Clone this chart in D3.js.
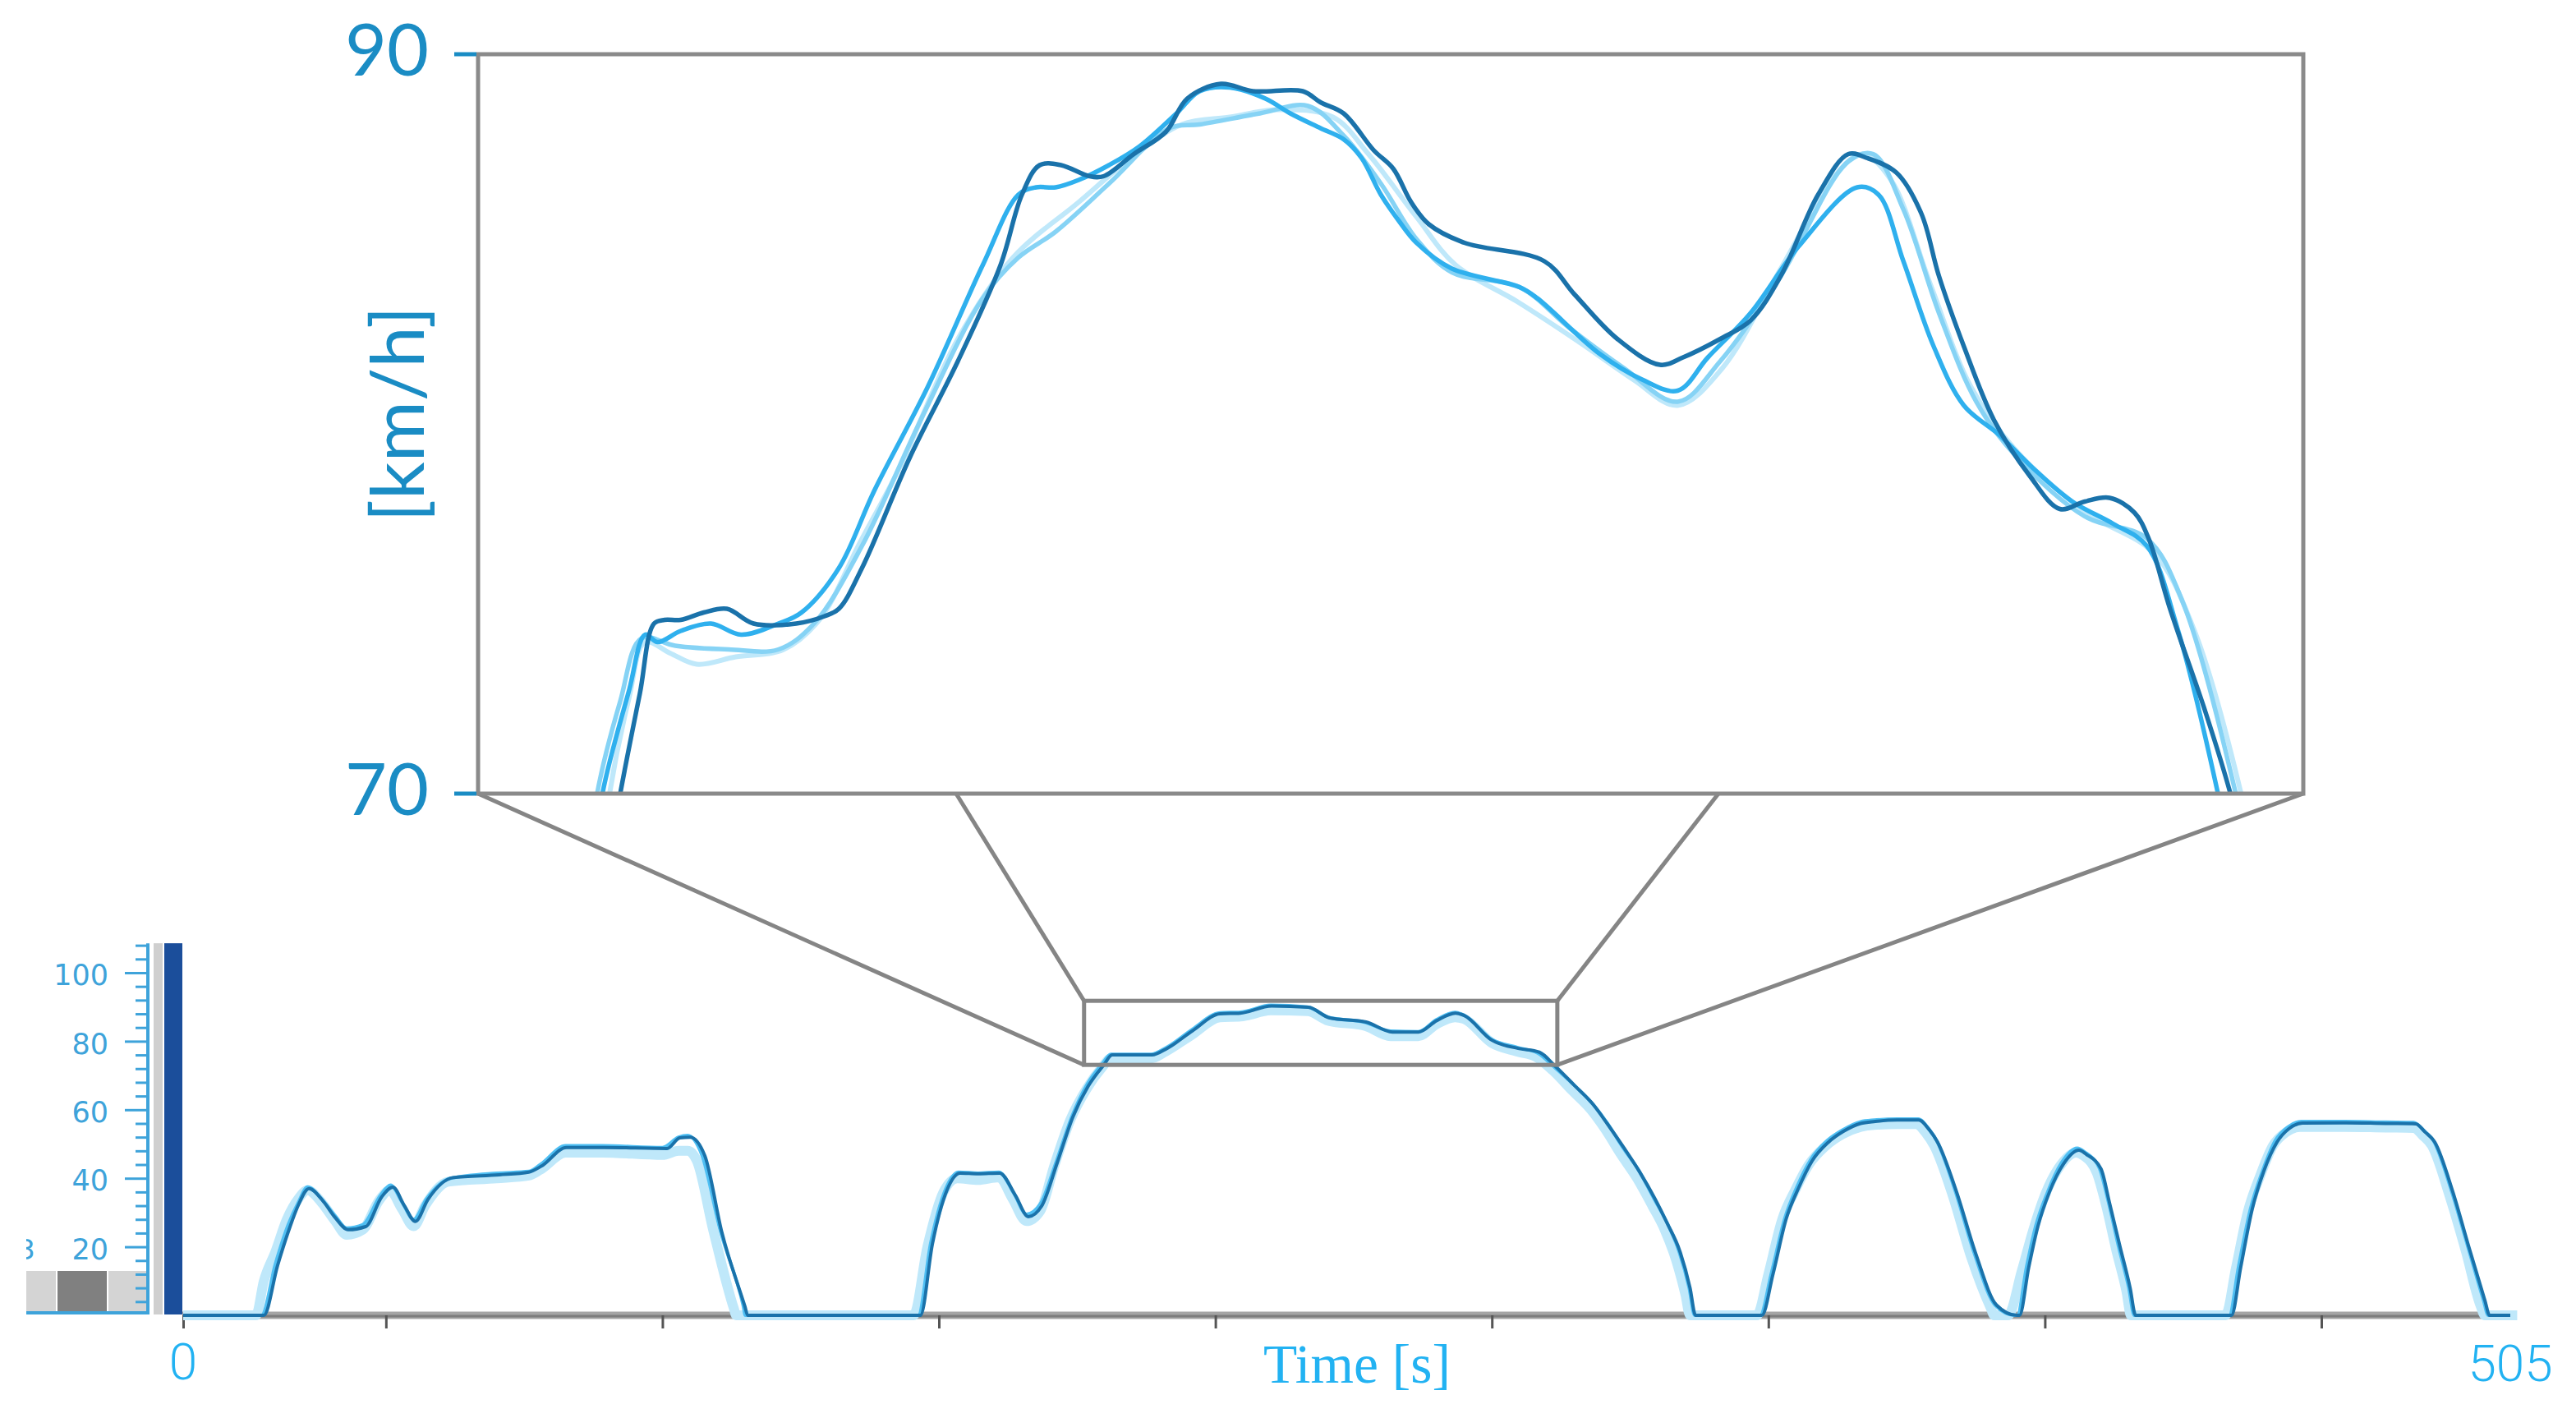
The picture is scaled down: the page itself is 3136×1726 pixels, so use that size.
<!DOCTYPE html>
<html><head><meta charset="utf-8">
<script src="https://cdn.jsdelivr.net/npm/d3@7/dist/d3.min.js"></script>
<style>html,body{margin:0;padding:0;background:#fff;}svg{display:block;}</style>
</head><body>
<svg id="chart" width="3136" height="1726"></svg>
<script>
// ---------------- DATA ----------------
// x-axis (time, s)
const xDomain = [0, 505];
const xTickValues = [0, 44, 104, 164, 224, 284, 344, 404, 464];
const xEndLabels = ["0", "505"];
const xTitle = "Time [s]";
// left mini speed axis
const yMajorTicks = [20, 40, 60, 80, 100];
const yMinorTicks = [4,8,12,16,24,28,32,36,44,48,52,56,64,68,72,76,84,88,92,96,104,108];
// zoom window (time range, speed range) shown in the bottom chart
const zoomTime = [195.5, 298.2];
const zoomSpeed = [73.1, 91.8];
// inset axis
const insetSpeed = [70, 90];
const insetTickLabels = ["70", "90"];
const insetTitle = "[km/h]";

// bottom chart series [time s, speed km/h]
const bottomLight = [[0,0],[15.8,0],[17.5,10],[20,18.5],[22.5,28],[25,34],[27,36.5],[30,33],[33,27.5],[35.5,23.5],[39,25],[42.5,33.5],[44.8,36.5],[47.5,31],[50,26],[52.5,32],[57.5,39],[68,40],[75,40.8],[77.5,42.5],[83,47.5],[91,47.5],[104,46.8],[107.5,48],[109.5,48],[111.5,45],[115,25],[119.5,2],[120,0],[158.5,0],[161.5,20],[165,36],[168,40],[172.5,39.5],[177,40.3],[180,34],[183,27.5],[186,30.5],[189,43.5],[192.5,57],[196,66],[199.5,72.5],[201.3,75],[210,75],[213.2,77],[219,82],[225,87],[229.5,87.2],[236,89],[244,88.8],[248.5,86],[256.5,84.5],[262,81.5],[268,81.5],[272,85],[276,87],[278,86.5],[284,79.5],[289.5,77],[293.5,75.5],[297.2,71.5],[301.5,65.5],[305.5,60],[308.5,54.5],[312,47],[315.5,40],[318.8,32],[321.5,25],[324,16],[326,6],[327,0],[341.5,0],[344,12],[347,28],[349.8,36.5],[352.8,44],[356.5,49.5],[360,52.8],[364,55],[367,55.6],[372,55.8],[376,55.8],[378.3,53],[380,49.5],[384,35],[388,17],[392.3,2],[393,0],[396,0],[399,13],[401.5,25],[404,35],[407,43],[410.8,47.5],[412.5,46.5],[415.3,41.5],[417.3,32],[419.5,19],[421.7,7],[422.7,0],[443.2,0],[445.5,14],[448,30],[450.8,41],[453.5,49.5],[456.4,53.5],[459.4,55],[469,55],[478,54.8],[484,54.7],[486,52.5],[488,49.5],[491.8,35],[495.3,19],[498.5,3],[499.5,0],[506.5,0]];
const bottomMedium = [[0,0],[17,0],[20,15],[22.8,26.5],[25,33],[27,37.5],[30,34],[33,29],[35.5,25.5],[39,26.5],[42.8,35],[45,38],[47.5,33],[50,28],[52.8,34],[58,40],[68,41.5],[75,42],[77.5,44],[83,49.5],[91,49.5],[104,49],[107.5,52],[109.5,52.5],[112.5,47],[116.5,25],[121.5,3],[122,0],[159.5,0],[162.2,21],[165.5,37],[168.3,41.8],[172.5,41.5],[177,41.8],[180.3,35.5],[183,29.5],[186,32.5],[189.5,45],[193,58.5],[196.2,67.5],[199.5,73.5],[201.3,76.2],[210,76.2],[213.2,78],[219,83.5],[225,88.3],[229.5,88.5],[236,90.5],[244,90],[248.5,87],[256.5,85.5],[262,83],[268,82.8],[272,86.3],[276,88.4],[278,87.6],[284,80.5],[289.5,78.2],[294,76.5],[297.5,72.5],[302,67],[306,61.5],[309,56.2],[312.4,49],[316,42],[319.2,34],[322,27],[324.6,18.7],[326.8,8],[328,0],[342.2,0],[344.6,12],[347.6,28.5],[350.2,37.5],[353.2,45.5],[356.8,51],[360,54],[364,56.5],[367,57],[372,57.3],[376.5,57.3],[378.8,54.5],[380.5,51],[384.5,36.5],[388.7,18],[393.2,3],[397.5,0],[398,0],[400,14],[402,26],[404.6,36],[407.6,44.5],[411,48.8],[412.8,47.5],[415.8,43],[417.8,33],[420,20],[422.2,8],[423.4,0],[444,0],[446,14],[448.6,31],[451.2,42],[454,51],[456.8,55],[459.6,56.6],[469,56.6],[478,56.4],[484,56.3],[486.2,54],[488.3,51],[492.2,36.5],[495.8,20],[499.2,4.3],[500.2,0],[505,0]];
const bottomDark = [[0,0],[17.5,0],[20.5,14.6],[23.2,25.9],[25,32.2],[27.3,37],[30.5,33.1],[33,28.5],[35.8,25],[39.6,25.9],[43.1,34.6],[45.5,37.4],[48,32],[50.4,27.4],[53.1,33.8],[58.6,40.2],[68.6,41],[75,41.8],[77.7,43.5],[83.2,49],[91.4,49],[105,48.7],[107.8,51.8],[110,52],[113.2,46.6],[116.9,24.2],[121.9,2.6],[122.5,0],[160,0],[162.6,20.9],[165.8,36.7],[168.6,41.5],[172.5,41.3],[177.2,41.5],[180.6,35],[183.4,28.8],[186.3,31.9],[189.7,44.6],[193.1,58],[196.4,66.9],[199.8,73.1],[201.6,76],[210.2,76],[213.5,77.9],[219,83],[225,88],[229.4,88.2],[236.2,90.3],[244.2,89.9],[248.8,86.8],[256.7,85.6],[262.4,82.7],[268.1,82.7],[272,86],[276.1,88.2],[278,87.5],[284,80.3],[289.7,77.9],[294.3,76.8],[297.7,72.8],[302,67],[306,61.5],[309,56],[312.6,49],[316,42],[319.4,34],[322,27],[324.8,18.7],[327,8],[328.2,0],[342.6,0],[345,12],[347.9,28.3],[350.5,37],[353.5,45.1],[357,50.5],[360.3,53.7],[364,56],[367.2,56.6],[372,57],[376.6,57],[379,54],[380.7,50.6],[384.8,36.2],[389,18],[393.5,3],[397.9,0],[398.5,0],[400.5,14],[402.5,26],[405,36],[408,44.1],[411.4,48.2],[413,47],[416.2,42.7],[418,33],[420.3,20.1],[422.5,8],[423.7,0],[444.5,0],[446.5,14],[449,31],[451.5,42],[454.4,50.6],[457,54.5],[459.9,56.1],[469.4,56.2],[478,56],[484.5,55.9],[486.5,53.5],[488.6,50.6],[492.5,36.2],[496,20],[499.5,4.3],[500.5,0],[505,0]];

// inset (zoomed) series [time s, speed km/h]
const insetVeryLight = [[202.4,68],[202.9,70],[204.0,72.6],[204.9,74.1],[206.3,73.8],[207.8,73.5],[210.0,73.7],[212.7,73.9],[214.7,74.7],[217,76.8],[219.2,78.8],[222.5,82.3],[225.6,84.5],[229.3,86.0],[232.0,87.1],[235.1,88.1],[237.8,88.3],[240.5,88.5],[243.6,88.3],[245.6,87.3],[248.3,85.6],[250.5,84.3],[254,83.3],[257.5,82.2],[260.5,81.2],[263.0,80.5],[265.5,81.5],[268.8,84.2],[272.0,86.8],[273.4,87.3],[275.0,86.6],[277.2,83.8],[279.5,81.0],[282,79.3],[286,77.6],[289.8,76.5],[292,74.5],[294.7,70],[295.1,69]];
const insetLight = [[201.7,68],[202.2,70],[203.5,72.5],[204.7,74.2],[206.6,74.0],[209.6,73.9],[212.4,73.9],[214.4,74.6],[217.1,76.7],[220.5,80.2],[223.9,83.4],[225.9,84.5],[228.0,85.2],[231.0,86.5],[234.4,88.0],[236.1,88.1],[239.5,88.4],[242.2,88.6],[244.2,87.8],[246.3,86.5],[248.3,85.0],[250.3,84.1],[254.1,83.7],[256.9,82.6],[260,81.5],[263.0,80.6],[265.4,81.7],[268.8,84.0],[272.6,87.1],[274.0,87.3],[275.7,85.8],[277.7,83.0],[279.8,80.6],[281.9,79.2],[285.9,77.5],[289.4,76.9],[291.4,75.2],[294.4,70],[294.8,69]];
const insetMedium = [[202.0,68],[202.5,70],[204.0,72.8],[204.9,74.3],[205.6,74.1],[206.9,74.4],[208.6,74.6],[210.3,74.3],[212.4,74.6],[213.7,74.9],[215.8,76.1],[217.8,78.2],[220.8,81.0],[223.9,84.3],[225.9,86.2],[226.9,86.4],[228.0,86.4],[229.3,86.6],[231.0,87.0],[232.7,87.5],[234.8,88.4],[236.1,89.0],[237.8,89.1],[239.8,88.8],[241.2,88.4],[242.9,88.0],[244.2,87.7],[245.2,87.2],[246.3,86.2],[247.3,85.5],[248.3,84.9],[250.3,84.2],[254.1,83.7],[255.1,83.4],[258.6,81.9],[261,81.2],[263.0,80.9],[264.7,81.8],[267.1,83.0],[269.8,84.8],[273.1,86.4],[274.3,86.2],[275.7,84.4],[277.4,82.1],[279.1,80.5],[281.1,79.7],[283,78.8],[285.2,77.9],[287.5,77.3],[289.4,76.7],[291.1,74.5],[293.4,70],[293.8,69]];
const insetDark = [[202.8,68],[203.5,70],[204.6,72.7],[205.4,74.6],[206.0,74.7],[206.9,74.7],[208.2,74.9],[209.5,75.0],[211.0,74.6],[213.4,74.6],[215.0,74.8],[215.8,75.0],[217.1,76.1],[219.8,79.1],[222.5,81.7],[224.9,84.3],[226.1,86.2],[227.1,87.0],[228.3,87.0],[229.9,86.7],[230.7,86.7],[232.4,87.3],[234.2,87.9],[235.4,88.8],[237.3,89.2],[239.1,89.0],[241.9,89.0],[242.9,88.7],[244.2,88.4],[245.9,87.4],[247.0,86.9],[248.0,86.0],[249.0,85.4],[251.0,84.9],[255.5,84.4],[257.2,83.5],[259.6,82.3],[262.0,81.6],[263.3,81.8],[265.4,82.3],[267.1,82.8],[268.8,84.0],[270.9,86.2],[272.6,87.3],[273.6,87.2],[275.3,86.8],[276.7,85.7],[277.7,84.0],[279.1,82.1],[280.8,80.1],[282.8,78.6],[284.5,77.7],[285.9,77.9],[287.3,78.0],[288.7,77.6],[289.5,76.9],[290.7,75.0],[292.7,72.2],[294.1,70],[294.6,69]];

// ---------------- DRAW ----------------
const svg = d3.select("#chart");
svg.append("rect").attr("width",3136).attr("height",1726).attr("fill","#fff");

const xB = d3.scaleLinear().domain(xDomain).range([223, 3056]);
const yB = d3.scaleLinear().domain([0, 100]).range([1601, 1184]);
const box = {x0:582, x1:2804, y0:66, y1:966};
const xI = d3.scaleLinear().domain(zoomTime).range([box.x0, box.x1]);
const yI = d3.scaleLinear().domain(insetSpeed).range([box.y1, box.y0]);

const C = {dark:"#1a72aa", medium:"#2fb0ee", light:"#86d3f5", vlight:"#bfe8fa",
           grey:"#858585", label:"#1a8cc4", axisBlue:"#3ea3da", tick:"#22b2f2"};

// ---- left instrument panel ----
const defs = svg.append("defs");
defs.append("clipPath").attr("id","leftClip").append("rect")
  .attr("x",32).attr("y",1100).attr("width",200).attr("height",520);
defs.append("clipPath").attr("id","insetClip").append("rect")
  .attr("x",box.x0).attr("y",box.y0).attr("width",box.x1-box.x0).attr("height",box.y1-box.y0);

const left = svg.append("g").attr("clip-path","url(#leftClip)");
const yTop = yB(108.6);
left.append("rect").attr("x",32).attr("y",1547).attr("width",36).attr("height",50).attr("fill","#d4d4d4");
left.append("rect").attr("x",70).attr("y",1547).attr("width",60).attr("height",50).attr("fill","#808080");
left.append("rect").attr("x",132).attr("y",1547).attr("width",48).attr("height",50).attr("fill","#d4d4d4");
left.append("line").attr("x1",32).attr("x2",182).attr("y1",1598).attr("y2",1598)
  .attr("stroke",C.axisBlue).attr("stroke-width",4);
left.append("text").attr("x",43).attr("y",1533).attr("text-anchor","end")
  .attr("font-family","DejaVu Sans, sans-serif").attr("font-size",34).attr("fill",C.axisBlue).text("3");
left.append("rect").attr("x",187).attr("y",yTop).attr("width",11).attr("height",1600-yTop).attr("fill","#cfcfcf");
left.append("rect").attr("x",200).attr("y",yTop).attr("width",22).attr("height",1600-yTop).attr("fill","#1b4e9b");

const axMinor = d3.axisLeft(yB).tickValues(yMinorTicks).tickSize(15).tickFormat("");
const gMin = svg.append("g").attr("transform","translate(180,0)").call(axMinor);
gMin.select(".domain").remove();
gMin.selectAll("line").attr("stroke",C.axisBlue).attr("stroke-width",3);
const axMajor = d3.axisLeft(yB).tickValues(yMajorTicks).tickSize(28).tickPadding(20);
const gMaj = svg.append("g").attr("transform","translate(180,0)").call(axMajor);
gMaj.select(".domain").remove();
gMaj.selectAll("line").attr("stroke",C.axisBlue).attr("stroke-width",3);
gMaj.selectAll("text").attr("font-family","DejaVu Sans, sans-serif").attr("font-size",35)
  .attr("fill",C.axisBlue).attr("dy","0.42em");
svg.append("line").attr("x1",180).attr("x2",180).attr("y1",yTop).attr("y2",1600)
  .attr("stroke",C.axisBlue).attr("stroke-width",4);

// ---- x axis ----
svg.append("line").attr("x1",222).attr("x2",3064).attr("y1",1601).attr("y2",1601)
  .attr("stroke","#a5a5a5").attr("stroke-width",9);
svg.append("line").attr("x1",222).attr("x2",3064).attr("y1",1602).attr("y2",1602)
  .attr("stroke","#7d7d7d").attr("stroke-width",3);
const axX = d3.axisBottom(xB).tickValues(xTickValues).tickSize(16).tickFormat("");
const gX = svg.append("g").attr("transform","translate(0,1601)").call(axX);
gX.select(".domain").remove();
gX.selectAll("line").attr("stroke","#555").attr("stroke-width",3);

svg.append("text").attr("x",xB(xDomain[0])).attr("y",1679).attr("text-anchor","middle")
  .attr("font-family","Roboto, sans-serif").attr("font-weight",300).attr("font-size",62)
  .attr("fill",C.tick).text(xEndLabels[0]);
svg.append("text").attr("x",xB(xDomain[1])).attr("y",1681).attr("text-anchor","middle")
  .attr("font-family","Roboto, sans-serif").attr("font-weight",300).attr("font-size",62)
  .attr("fill",C.tick).text(xEndLabels[1]);
svg.append("text").attr("x",1652).attr("y",1683).attr("text-anchor","middle")
  .attr("font-family","Liberation Serif, serif").attr("font-size",68)
  .attr("fill",C.tick).attr("textLength",228).attr("lengthAdjust","spacingAndGlyphs").text(xTitle);

// ---- bottom series ----
const lineB = d3.line().x(d=>xB(d[0])).y(d=>yB(d[1])).curve(d3.curveMonotoneX);
svg.append("path").datum(bottomLight).attr("d",lineB).attr("fill","none")
  .attr("stroke",C.vlight).attr("stroke-width",12).attr("stroke-linejoin","round");
svg.append("path").datum(bottomMedium).attr("d",lineB).attr("fill","none")
  .attr("stroke","#4fbff3").attr("stroke-width",4).attr("stroke-linejoin","round");
svg.append("path").datum(bottomDark).attr("d",lineB).attr("fill","none")
  .attr("stroke",C.dark).attr("stroke-width",4).attr("stroke-linejoin","round");

// ---- zoom box and connectors ----
const zx0 = xB(zoomTime[0]), zx1 = xB(zoomTime[1]);
const zyT = yB(zoomSpeed[1]), zyB = yB(zoomSpeed[0]);
const connectors = [
  [box.x0, box.y1, zx0, zyB],
  [1164, box.y1, zx0, zyT],
  [2092, box.y1, zx1, zyT],
  [box.x1, box.y1, zx1, zyB]
];
svg.selectAll("line.conn").data(connectors).join("line").attr("class","conn")
  .attr("x1",d=>d[0]).attr("y1",d=>d[1]).attr("x2",d=>d[2]).attr("y2",d=>d[3])
  .attr("stroke",C.grey).attr("stroke-width",5);
svg.append("rect").attr("x",zx0).attr("y",zyT).attr("width",zx1-zx0).attr("height",zyB-zyT)
  .attr("fill","none").attr("stroke",C.grey).attr("stroke-width",5);

// ---- inset ----
const lineI = d3.line().x(d=>xI(d[0])).y(d=>yI(d[1])).curve(d3.curveCatmullRom.alpha(0.5));
const gI = svg.append("g").attr("clip-path","url(#insetClip)");
[[insetVeryLight,C.vlight,6],[insetLight,C.light,5.5],[insetMedium,C.medium,5.5],[insetDark,C.dark,5.5]]
  .forEach(([data,col,w])=>{
    gI.append("path").datum(data).attr("d",lineI).attr("fill","none")
      .attr("stroke",col).attr("stroke-width",w).attr("stroke-linejoin","round").attr("stroke-linecap","round");
  });
svg.append("rect").attr("x",box.x0).attr("y",box.y0).attr("width",box.x1-box.x0).attr("height",box.y1-box.y0)
  .attr("fill","none").attr("stroke","#8a8a8a").attr("stroke-width",5);

insetSpeed.forEach((v,i)=>{
  svg.append("line").attr("x1",553).attr("x2",580).attr("y1",yI(v)).attr("y2",yI(v))
    .attr("stroke",C.label).attr("stroke-width",5);
  svg.append("text").attr("x",522).attr("y",yI(v)+26).attr("text-anchor","end")
    .attr("font-family","Lato, sans-serif").attr("font-size",88).attr("fill",C.label)
    .text(insetTickLabels[i]);
});
svg.append("text").attr("transform","translate(516,504) rotate(-90)").attr("text-anchor","middle")
  .attr("font-family","Lato, sans-serif").attr("font-size",90).attr("fill",C.label)
  .text(insetTitle);
</script>
</body></html>
